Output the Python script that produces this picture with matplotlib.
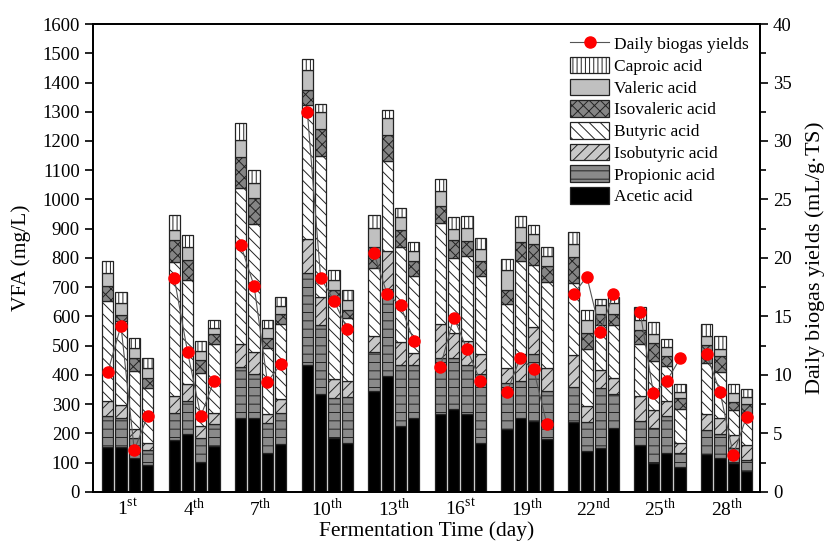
import numpy as np
import matplotlib
matplotlib.use('Agg')
import matplotlib.pyplot as plt
from matplotlib.lines import Line2D
from matplotlib.patches import Patch

plt.rcParams['font.family'] = ['Liberation Serif', 'DejaVu Serif']
plt.rcParams['mathtext.fontset'] = 'custom'
plt.rcParams['mathtext.rm'] = 'Liberation Serif'
plt.rcParams['hatch.linewidth'] = 0.7

days = [1, 4, 7, 10, 13, 16, 19, 22, 25, 28]
suffix = ['st', 'th', 'th', 'th', 'th', 'st', 'th', 'nd', 'th', 'th']

# four samples per fermentation day, mg/L
acetic = [153, 153, 116, 91, 176, 199, 102, 155, 251, 251, 134, 163, 435, 333, 185, 166,
          345, 396, 225, 254, 265, 282, 265, 168, 214, 251, 242, 180, 240, 140, 151, 219,
          159, 100, 131, 85, 128, 114, 100, 72]
propionic = [105, 99, 68, 53, 95, 111, 83, 78, 175, 153, 102, 105, 313, 237, 137, 158,
             134, 299, 210, 181, 193, 174, 168, 236, 159, 128, 228, 165, 118, 99, 205, 114,
             83, 117, 128, 46, 82, 83, 51, 36]
isobutyric = [51, 46, 31, 23, 56, 57, 40, 35, 81, 75, 29, 50, 117, 96, 65, 55,
              55, 130, 78, 38, 117, 87, 82, 66, 49, 91, 94, 79, 109, 54, 59, 55,
              85, 62, 51, 37, 57, 57, 42, 51]
butyric = [345, 286, 197, 188, 459, 356, 182, 239, 531, 437, 227, 256, 459, 484, 276, 216,
           231, 307, 324, 266, 344, 256, 293, 267, 220, 318, 213, 293, 247, 196, 155, 181,
           179, 170, 120, 116, 174, 156, 86, 112]
isovaleric = [51, 21, 47, 34, 76, 71, 45, 34, 108, 90, 34, 35, 51, 91, 26, 26,
              72, 88, 57, 51, 59, 61, 50, 54, 49, 65, 71, 57, 89, 54, 39, 40,
              49, 60, 36, 36, 60, 54, 29, 28]
valeric = [42, 40, 34, 36, 34, 45, 31, 20, 59, 49, 35, 28, 68, 59, 36, 34,
           67, 57, 45, 35, 52, 39, 44, 40, 66, 54, 34, 34, 45, 43, 31, 37,
           31, 31, 29, 22, 31, 23, 31, 25]
caproic = [42, 40, 32, 32, 51, 40, 32, 28, 55, 46, 28, 28, 37, 28, 32, 34,
           43, 28, 33, 31, 40, 40, 43, 37, 40, 38, 31, 31, 40, 37, 21, 19,
           45, 40, 28, 25, 42, 45, 28, 28]

# mL/g TS
biogas = [10.2, 14.2, 3.56, 6.48, 18.3, 11.97, 6.48, 9.5, 21.1, 17.6, 9.4, 10.9,
          32.5, 18.3, 16.35, 13.9, 20.4, 16.9, 15.95, 12.9, 10.7, 14.9, 12.2, 9.47,
          8.53, 11.45, 10.46, 5.77, 16.9, 18.4, 13.7, 16.9, 15.4, 8.42, 9.47, 11.4,
          11.74, 8.56, 3.16, 6.43]

layers = [
    ('Acetic acid', acetic, '#000000', None),
    ('Propionic acid', propionic, '#8a8a8a', '--'),
    ('Isobutyric acid', isobutyric, '#c8c8c8', '///'),
    ('Butyric acid', butyric, '#ffffff', '\\\\\\'),
    ('Isovaleric acid', isovaleric, '#858585', 'xxx'),
    ('Valeric acid', valeric, '#c0c0c0', None),
    ('Caproic acid', caproic, '#ffffff', '||||'),
]

fig = plt.figure(figsize=(8.26, 5.47), dpi=100)
ax = fig.add_axes([0.1126, 0.101, 0.8074, 0.855])

x = np.arange(len(days))
offsets = (np.arange(4) - 1.5) * 0.2
xpos = (x[:, None] + offsets[None, :]).ravel()

bottom = np.zeros(len(xpos))
for name, vals, fc, hatch in layers:
    vals = np.array(vals, dtype=float)
    ax.bar(xpos, vals, 0.17, bottom=bottom, color=fc, edgecolor='#222222',
           hatch=hatch, linewidth=0.9)
    bottom += vals

ax.set_xlim(-0.52, 9.5)
ax.set_ylim(0, 1600)
ax.set_yticks(np.arange(0, 1601, 100))
ax.set_xticks(x)
ax.set_xticklabels(['%d$^{\\mathrm{%s}}$' % (d, s) for d, s in zip(days, suffix)])
ax.tick_params(axis='x', length=0, pad=4, labelsize=14)
ax.tick_params(axis='y', direction='out', length=6, width=1.2, labelsize=13.5)
ax.set_xlabel('Fermentation Time (day)', fontsize=15.5, labelpad=1)
ax.set_ylabel('VFA (mg/L)', fontsize=15.5, labelpad=8)
for s in ax.spines.values():
    s.set_linewidth(1.3)

ax2 = ax.twinx()
b = np.array(biogas)
for g in range(len(days)):
    ax2.plot(xpos[4 * g:4 * g + 4], b[4 * g:4 * g + 4], '-', color='#555555', lw=0.8)
ax2.plot(xpos, b, 'o', color='#ff0000', ms=8, ls='none')
ax2.set_ylim(0, 40)
ax2.set_yticks(np.arange(0, 41, 5))
ax2.set_yticks(np.arange(2.5, 40, 5), minor=True)
ax2.tick_params(axis='y', which='major', direction='out', length=6, width=1.2, labelsize=13.5)
ax2.tick_params(axis='y', which='minor', direction='out', length=4, width=1.2)
ax2.set_ylabel('Daily biogas yields (mL/g$\\cdot$TS)', fontsize=16, labelpad=8)
for s in ax2.spines.values():
    s.set_linewidth(1.3)

handles = [Line2D([], [], color='#555555', lw=0.8, marker='o', ms=8,
                  markerfacecolor='#ff0000', markeredgecolor='#ff0000')]
labels = ['Daily biogas yields']
for name, vals, fc, hatch in layers[::-1]:
    handles.append(Patch(facecolor=fc, edgecolor='#222222', hatch=hatch, linewidth=0.9))
    labels.append(name)
ax2.legend(handles, labels, loc='upper right', bbox_to_anchor=(0.997, 0.995),
           frameon=False, fontsize=12.5, handlelength=2.25, handleheight=1.1,
           labelspacing=0.2, handletextpad=0.3, borderaxespad=0.1)

fig.savefig('out.png', dpi=100)
